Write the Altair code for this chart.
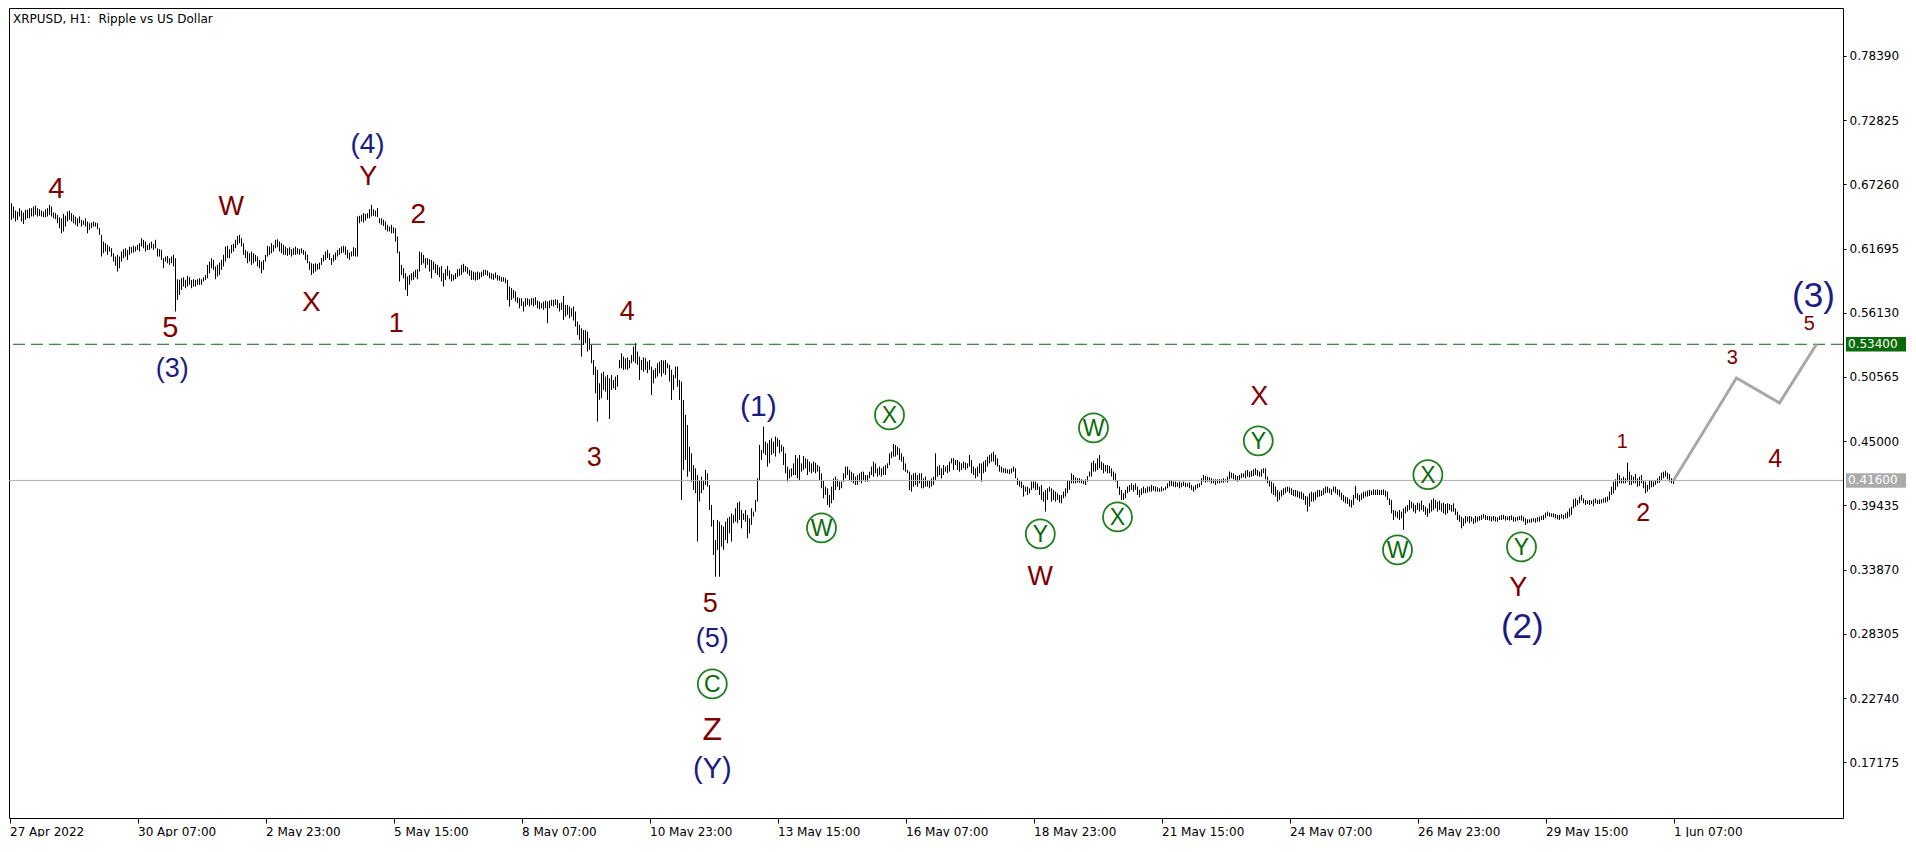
import json
import pandas as pd
import altair as alt

TITLE = "XRPUSD, H1:\u00a0 Ripple vs US Dollar"

# Hourly bars, bar 0 = 27 Apr 2022 15:00.  Prices in pips (1e-4 USD).
high_pips = [
    6557, 6562, 6534, 6499, 6490, 6519, 6499, 6482, 6505, 6505,
    6519, 6519, 6534, 6542, 6519, 6510, 6499, 6490, 6510, 6519,
    6548, 6534, 6482, 6476, 6461, 6441, 6432, 6470, 6453, 6490,
    6499, 6476, 6461, 6447, 6432, 6447, 6418, 6412, 6432, 6404,
    6389, 6395, 6404, 6395, 6389, 6346, 6288, 6230, 6216, 6201,
    6187, 6172, 6129, 6100, 6115, 6100, 6144, 6164, 6172, 6158,
    6187, 6181, 6193, 6187, 6201, 6216, 6259, 6245, 6230, 6201,
    6216, 6230, 6210, 6245, 6172, 6164, 6158, 6086, 6100, 6106,
    6086, 6100, 6115, 6086, 5904, 5898, 5912, 5921, 5898, 5933,
    5921, 5898, 5904, 5898, 5904, 5912, 5904, 5921, 5941, 6028,
    6057, 6086, 6071, 6014, 6028, 6048, 6071, 6115, 6187, 6193,
    6164, 6201, 6210, 6245, 6279, 6288, 6259, 6216, 6158, 6144,
    6129, 6144, 6129, 6115, 6100, 6071, 6057, 6071, 6115, 6193,
    6187, 6216, 6201, 6245, 6250, 6230, 6216, 6201, 6187, 6172,
    6181, 6164, 6172, 6187,
    6172, 6164, 6172, 6158, 6144, 6115,
    6057, 6042, 6037, 6042, 6037, 6048, 6086, 6115, 6144, 6158,
    6129, 6086, 6115, 6135, 6158, 6172, 6187, 6193, 6187, 6158,
    6135, 6144, 6181, 6172, 6447, 6453, 6461, 6476, 6470, 6476,
    6510, 6548, 6510, 6499, 6519, 6432, 6432, 6418, 6404, 6375,
    6360, 6375, 6354, 6346, 6274, 6144, 6028, 5999, 5956, 5927,
    5941, 5956, 5970, 5985, 5990, 6144, 6135, 6115, 6086, 6086,
    6077, 6071, 6057, 6037, 6028, 6008, 6019, 5956, 5990, 6019,
    5979, 5950, 5941, 5956, 5990, 5996, 6028, 6037, 6019, 6008,
    5985, 5979, 5970, 5962, 5970, 5962, 5970, 5985, 5985, 5979,
    5962, 5956, 5950, 5962, 5941, 5933, 5921, 5921, 5912, 5898,
    5840, 5826, 5811, 5797, 5748, 5739, 5739, 5710, 5739, 5739,
    5730, 5739, 5739, 5748, 5719, 5710, 5696, 5710, 5719, 5710,
    5719, 5725, 5725, 5730, 5725, 5696, 5702, 5759, 5681, 5681,
    5667, 5652, 5667, 5624,
    5537, 5508, 5479, 5464, 5464, 5450,
    5392, 5334, 5204, 5147, 5118, 5002, 5089, 5103, 5060, 5074,
    5045, 5074, 5031, 5060, 5074, 5204, 5262, 5233, 5219, 5227,
    5204, 5248, 5320, 5349, 5277, 5233, 5204, 5227, 5219, 5190,
    5204, 5147, 5118, 5132, 5175, 5190, 5204, 5199, 5204, 5175,
    5161, 5118, 5074, 5147, 5147, 5031, 5017, 4858, 4728, 4641,
    4453, 4395, 4294, 4265, 4208, 4164, 4193, 4164, 4251, 4222,
    4121, 3948, 3818, 3644, 3818, 3803, 3774, 3760, 3803, 3832,
    3846, 3875, 3861, 3919, 3968, 3977, 3904, 3875, 3904, 3861,
    3832, 3919, 3890, 3991, 4179, 4468, 4424, 4627, 4496, 4482,
    4511, 4525, 4496, 4540, 4525, 4511, 4468, 4453, 4395,
    4280, 4256, 4265, 4308, 4381, 4352, 4381, 4308, 4372, 4352, 4343,
    4323, 4308, 4323, 4314, 4294, 4280, 4222, 4164, 4106, 4092,
    4034, 4106, 4178, 4193, 4170, 4150, 4150, 4222, 4280, 4280,
    4251, 4236, 4222, 4193, 4207, 4222, 4236, 4236, 4207, 4207,
    4236, 4280, 4323, 4308, 4265, 4280, 4265, 4280, 4294, 4308,
    4395, 4410, 4476, 4467, 4453, 4438, 4395, 4366, 4308, 4251,
    4236, 4207, 4222, 4228, 4207, 4222, 4222, 4178, 4193, 4164,
    4164, 4178, 4193, 4395, 4280, 4294, 4265, 4294, 4280, 4294,
    4323, 4352, 4352, 4337, 4337, 4323, 4308, 4323, 4314, 4308,
    4381, 4337, 4280, 4265, 4280, 4308, 4308, 4323, 4337, 4366,
    4381, 4395, 4410, 4381, 4352, 4294, 4280, 4265, 4265, 4256,
    4256, 4265, 4280, 4265, 4178, 4164, 4150, 4121, 4106, 4106,
    4092, 4150, 4150, 4150, 4135, 4106, 4121, 4063, 4077, 4092,
    4106, 4092, 4077, 4063, 4048, 4034, 4034, 4063, 4092,
    4164, 4164, 4222, 4208, 4187, 4179, 4179, 4170, 4164, 4170, 4199,
    4237, 4315, 4332, 4309, 4352, 4381, 4323, 4309, 4294, 4294,
    4286, 4265, 4237, 4222, 4164, 4107, 4078, 4049, 4078, 4107,
    4121, 4135, 4121, 4135, 4107, 4078, 4092, 4107, 4092, 4107,
    4107, 4121, 4112, 4107, 4101, 4092, 4107, 4092, 4107, 4135,
    4164, 4159, 4150, 4150, 4141, 4150, 4141, 4150, 4141, 4135,
    4141, 4121, 4107, 4121, 4130, 4135, 4179, 4208, 4199, 4193,
    4187, 4179, 4170, 4170, 4170, 4170, 4170, 4179, 4170, 4193,
    4237, 4228, 4222, 4208, 4199, 4208, 4222, 4222, 4245, 4251,
    4237, 4245, 4257, 4265, 4251, 4237, 4257, 4265, 4265, 4193,
    4164, 4150, 4135, 4107, 4078, 4063, 4078, 4092, 4101, 4107,
    4101, 4092, 4078, 4078, 4072, 4063, 4063, 4049, 4026, 4020,
    4049, 4063, 4055, 4063, 4078, 4078, 4072, 4092, 4107, 4107,
    4092, 4083, 4107, 4107, 4083, 4078, 4055, 4034, 4020, 4014,
    3997, 3991, 4034, 4112, 4049, 4034, 4049, 4063, 4063, 4072,
    4078, 4072, 4083, 4078,
    4083, 4077, 4077, 4083, 4072, 4063,
    4005, 3991, 3904, 3898, 3890, 3904, 3890, 3918, 3933, 3947,
    3991, 3976, 3962, 3947, 3968, 3962, 3985, 3947, 3933, 3918,
    3962, 3991, 4005, 3991, 3976, 3985, 3962, 3968, 3956, 3962,
    3956, 3947, 3962, 3918, 3890, 3861, 3846, 3832, 3852, 3846,
    3852, 3846, 3832, 3852, 3846, 3852, 3861, 3869, 3861, 3852,
    3852, 3846, 3852, 3846, 3840, 3852, 3861, 3861, 3852, 3846,
    3852, 3858, 3846, 3840, 3846, 3852, 3858, 3846, 3832, 3823,
    3823, 3832, 3832, 3832, 3840, 3846, 3852, 3861, 3881, 3890,
    3881, 3875, 3875, 3869, 3861, 3861, 3869, 3861, 3875, 3890,
    3918, 3933, 3996, 4005, 3991, 4020, 4034, 4005, 3991, 3985,
    3991, 3985, 3996, 4005, 3991, 3996, 3996, 4005, 4014, 4020,
    4063, 4106, 4150, 4170, 4222, 4207, 4178, 4193, 4178, 4314,
    4236, 4207, 4193, 4216, 4178, 4193, 4207, 4164, 4150, 4121,
    4164, 4158, 4150, 4164, 4178, 4199, 4228, 4236, 4245, 4228,
    4216, 4178, 4164,
]

low_pips = [
    6441, 6418, 6432, 6404, 6418, 6447, 6404, 6383, 6418, 6432,
    6432, 6447, 6447, 6461, 6447, 6453, 6447, 6441, 6441, 6447,
    6461, 6447, 6432, 6424, 6389, 6346, 6302, 6317, 6360, 6404,
    6418, 6404, 6389, 6375, 6360, 6389, 6360, 6375, 6360, 6302,
    6331, 6346, 6360, 6360, 6337, 6288, 6100, 6129, 6144, 6115,
    6144, 6100, 6057, 6019, 5970, 5999, 6057, 6086, 6100, 6071,
    6115, 6129, 6135, 6144, 6158, 6144, 6187, 6172, 6144, 6158,
    6158, 6172, 6158, 6172, 6100, 6100, 6071, 5999, 6057, 6042,
    6028, 6042, 6014, 5624, 5725, 5768, 5811, 5840, 5826, 5840,
    5855, 5826, 5840, 5840, 5855, 5855, 5855, 5884, 5898, 5912,
    5956, 5999, 5985, 5904, 5927, 5941, 5985, 6014, 6057, 6086,
    6086, 6129, 6144, 6172, 6201, 6216, 6187, 6115, 6086, 6042,
    6057, 6028, 6042, 6057, 6014, 5999, 5956, 5985, 6057, 6100,
    6115, 6129, 6144, 6172, 6181, 6144, 6129, 6115, 6115, 6106,
    6115, 6100, 6115, 6115,
    6123, 6115, 6129, 6115, 6071, 6042,
    5985, 5941, 5956, 5970, 5985, 5990, 6028, 6057, 6071, 6086,
    6071, 6028, 6057, 6071, 6100, 6115, 6129, 6135, 6115, 6086,
    6071, 6100, 6106, 6100, 6100, 6389, 6404, 6395, 6412, 6432,
    6432, 6447, 6453, 6447, 6441, 6389, 6375, 6366, 6331, 6317,
    6317, 6302, 6302, 6230, 6129, 5884, 5941, 5912, 5811, 5759,
    5855, 5892, 5898, 5921, 5904, 5970, 6028, 6042, 5999, 6028,
    5970, 5912, 5985, 5956, 5941, 5921, 5884, 5840, 5898, 5933,
    5904, 5884, 5892, 5904, 5921, 5933, 5941, 5962, 5970, 5950,
    5933, 5898, 5898, 5892, 5898, 5904, 5921, 5933, 5941, 5933,
    5912, 5904, 5898, 5912, 5892, 5892, 5881, 5884, 5869, 5725,
    5667, 5725, 5739, 5710, 5696, 5652, 5673, 5624, 5667, 5681,
    5667, 5681, 5667, 5681, 5652, 5644, 5652, 5638, 5652, 5522,
    5652, 5673, 5667, 5681, 5652, 5624, 5638, 5551, 5580, 5595,
    5566, 5580, 5546, 5494,
    5421, 5378, 5233, 5334, 5349, 5277,
    5291, 5175, 5074, 4915, 4670, 4858, 4872, 4944, 4930, 4858,
    4693, 4944, 4959, 4944, 4973, 5132, 5132, 5118, 5123, 5118,
    5132, 5175, 5190, 5175, 5161, 5031, 5118, 5103, 5118, 5089,
    5118, 4901, 5002, 5045, 5060, 5089, 5060, 5089, 5074, 5132,
    5017, 4858, 4944, 5045, 4973, 4858, 3991, 4251, 4338, 4193,
    4236, 4150, 4078, 4049, 3630, 3977, 4049, 4078, 4121, 4107,
    3904, 3760, 3514, 3326, 3558, 3326, 3586, 3558, 3644, 3615,
    3702, 3630, 3789, 3803, 3789, 3818, 3745, 3818, 3803, 3659,
    3702, 3774, 3846, 3890, 3977, 4164, 4338, 4395, 4381, 4280,
    4309, 4381, 4395, 4367, 4453, 4395, 4410, 4294, 4222,
    4150, 4178, 4193, 4207, 4207, 4178, 4164, 4236, 4251, 4265, 4207,
    4236, 4222, 4236, 4222, 4236, 4164, 4092, 4005, 4034, 3947,
    3927, 3962, 3991, 4077, 4106, 4077, 4092, 4150, 4178, 4207,
    4164, 4150, 4135, 4121, 4121, 4150, 4135, 4164, 4150, 4150,
    4178, 4207, 4193, 4222, 4193, 4207, 4193, 4207, 4207, 4265,
    4294, 4352, 4366, 4366, 4381, 4337, 4323, 4251, 4236, 4222,
    4077, 4063, 4106, 4121, 4106, 4135, 4092, 4092, 4106, 4106,
    4092, 4106, 4121, 4164, 4193, 4207, 4178, 4207, 4236, 4222,
    4236, 4308, 4251, 4294, 4251, 4236, 4251, 4265, 4251, 4265,
    4280, 4222, 4207, 4178, 4193, 4222, 4150, 4222, 4236, 4280,
    4308, 4323, 4323, 4294, 4280, 4236, 4228, 4228, 4222, 4222,
    4216, 4222, 4236, 4178, 4121, 4106, 4092, 4020, 4063, 4034,
    4048, 4077, 4092, 4077, 4077, 4034, 3991, 3976, 3890, 3991,
    4063, 3976, 3991, 3976, 3991, 3968, 3962, 4005, 4020,
    4049, 4078, 4135, 4135, 4135, 4141, 4141, 4135, 4130, 4121, 4150,
    4193, 4193, 4237, 4237, 4251, 4265, 4251, 4222, 4237, 4222,
    4222, 4193, 4164, 4150, 4092, 4034, 3991, 3991, 4005, 4049,
    4063, 4078, 4063, 4078, 4034, 4014, 4034, 4049, 4049, 4055,
    4063, 4063, 4072, 4063, 4063, 4063, 4063, 4072, 4078, 4092,
    4107, 4112, 4107, 4101, 4107, 4092, 4101, 4112, 4101, 4107,
    4092, 4078, 4063, 4078, 4092, 4101, 4121, 4150, 4141, 4150,
    4150, 4135, 4135, 4121, 4135, 4135, 4141, 4141, 4150, 4141,
    4170, 4179, 4170, 4159, 4150, 4164, 4179, 4187, 4179, 4193,
    4187, 4193, 4199, 4208, 4199, 4193, 4193, 4222, 4170, 4135,
    4107, 4049, 4034, 4020, 3976, 3991, 4020, 4034, 4049, 4063,
    4049, 4034, 4026, 4020, 4014, 4005, 3997, 3991, 3948, 3890,
    3933, 3976, 3976, 3991, 4014, 4020, 4026, 4034, 4049, 4055,
    4049, 4034, 4063, 4049, 4034, 4020, 3991, 3976, 3962, 3956,
    3933, 3925, 3948, 4005, 3991, 3976, 3991, 4005, 4020, 4020,
    4026, 4034, 4034, 4034,
    4034, 4034, 4034, 4034, 4020, 3991,
    3947, 3875, 3817, 3846, 3832, 3817, 3832, 3731, 3875, 3890,
    3904, 3918, 3890, 3875, 3904, 3890, 3904, 3890, 3861, 3846,
    3875, 3890, 3904, 3918, 3890, 3904, 3890, 3875, 3861, 3875,
    3904, 3890, 3890, 3861, 3817, 3803, 3745, 3765, 3788, 3803,
    3788, 3803, 3783, 3794, 3803, 3812, 3817, 3832, 3817, 3817,
    3812, 3803, 3812, 3803, 3803, 3817, 3817, 3823, 3812, 3817,
    3812, 3817, 3803, 3803, 3812, 3817, 3812, 3803, 3774, 3788,
    3794, 3794, 3803, 3794, 3803, 3803, 3817, 3817, 3832, 3852,
    3846, 3846, 3840, 3832, 3823, 3817, 3832, 3823, 3832, 3832,
    3846, 3861, 3918, 3933, 3947, 3962, 3985, 3962, 3947, 3956,
    3947, 3956, 3939, 3962, 3956, 3956, 3962, 3968, 3968, 3976,
    3991, 4034, 4048, 4077, 4106, 4135, 4135, 4135, 4135, 4150,
    4121, 4121, 4135, 4135, 4106, 4112, 4135, 4092, 4048, 4063,
    4083, 4100, 4106, 4121, 4135, 4141, 4164, 4178, 4193, 4170,
    4150, 4135, 4129,
]

tick_hours = [0, 64, 128, 192, 256, 320, 384, 448, 512, 576, 640, 704, 768, 832]
tick_labels = ["27 Apr 2022", "30 Apr 07:00", "2 May 23:00", "5 May 15:00",
               "8 May 07:00", "10 May 23:00", "13 May 15:00", "16 May 07:00",
               "18 May 23:00", "21 May 15:00", "24 May 07:00", "26 May 23:00",
               "29 May 15:00", "1 Jun 07:00"]
price_ticks = [0.78390, 0.72825, 0.67260, 0.61695, 0.56130, 0.50565,
               0.45000, 0.39435, 0.33870, 0.28305, 0.22740, 0.17175]

target_level = 0.534
current_level = 0.416

proj_bars = [832, 863.5, 885, 903.5]
proj_prices = [0.416, 0.5048, 0.4832, 0.534]

MAROON, NAVY = "#800000", "#1C1C80"
wave_text = ["4", "W", "X", "Y", "2", "1", "5", "4", "3", "5", "Z",
             "W", "X", "Y", "1", "2", "3", "4", "5",
             "(4)", "(3)", "(1)", "(5)", "(Y)", "(2)", "(3)"]
wave_bar = [23.4, 110.9, 150.9, 179.4, 204.4, 193.4, 80.4, 308.9, 292.4, 350.4, 351.4,
            515.4, 624.9, 754.4, 806.4, 816.9, 861.4, 882.9, 899.9,
            179, 81.4, 374.4, 351.4, 351.4, 756.4, 902]
wave_price = [0.6686, 0.6530, 0.5698, 0.6790, 0.6461, 0.5516, 0.5482, 0.5620, 0.4355,
              0.3090, 0.2000, 0.3324, 0.4884, 0.3229, 0.4494, 0.3879, 0.5222, 0.4347,
              0.5516, 0.7067, 0.5126, 0.4797, 0.2787, 0.1660, 0.2891, 0.5759]
wave_color = [MAROON] * 19 + [NAVY] * 7
wave_size = [29, 27, 28, 27, 28, 27, 29, 27, 27, 27, 32,
             27, 27, 27, 20, 25, 20, 25, 20,
             28, 27, 30, 27, 29, 35, 35]

circ_letter = ["C", "W", "X", "Y", "W", "X", "Y", "X", "W", "Y"]
circ_bar = [351.4, 406, 440, 515.4, 542, 554, 624.4, 709.2, 694, 756]
circ_price = [0.2397, 0.3749, 0.4728, 0.3697, 0.4615, 0.3844, 0.4503, 0.4210, 0.3558, 0.3584]

# ---------------------------------------------------------------- layout
W, H = 1834, 810
PX_PER_BAR = 2
x_scale = alt.Scale(domain=[-0.25, -0.25 + W / PX_PER_BAR], nice=False, zero=False)
y_top = 0.8254
y_scale = alt.Scale(domain=[y_top - H / 1154.0, y_top], nice=False, zero=False)

label_expr = "%s[indexof(%s, datum.value)]" % (json.dumps(tick_labels), json.dumps(tick_hours))
x_axis = alt.Axis(values=tick_hours, labelExpr=label_expr, orient="bottom", grid=False,
                  domain=False, ticks=True, tickSize=5, tickColor="black",
                  labelColor="black", labelFont="DejaVu Sans", labelFontSize=12,
                  labelAlign="left", labelBaseline="top", labelPadding=3,
                  labelOverlap=False, labelFlush=False, title=None)
y_axis = alt.Axis(orient="right", values=price_ticks, format=".5f", grid=False,
                  domain=False, tickSize=3, tickColor="black", labelPadding=3,
                  labelColor="black", labelFont="DejaVu Sans", labelFontSize=12,
                  labelOverlap=False, labelFlush=False, title=None)


def X(field):
    return alt.X(field + ":Q", scale=x_scale, axis=x_axis)


def Y(field):
    return alt.Y(field + ":Q", scale=y_scale, axis=y_axis)


n = min(len(high_pips), len(low_pips))
bars_df = pd.DataFrame({
    "bar": list(range(n)),
    "high": [v / 10000 for v in high_pips[:n]],
    "low": [v / 10000 for v in low_pips[:n]],
})

bars = alt.Chart(bars_df).mark_rule(color="black", strokeWidth=1).encode(
    x=X("bar"), y=Y("low"), y2="high:Q")

target = alt.Chart(pd.DataFrame({"price": [target_level]})).mark_rule(
    color="#0A6A0A", strokeDash=[12, 6], strokeWidth=1).encode(y=Y("price"))
current = alt.Chart(pd.DataFrame({"price": [current_level]})).mark_rule(
    color="#AFAFAF", strokeWidth=1).encode(y=Y("price"))

proj = alt.Chart(pd.DataFrame({"bar": proj_bars, "price": proj_prices})).mark_line(
    color="#A8A8A8", strokeWidth=3).encode(x=X("bar"), y=Y("price"))

box_df = pd.DataFrame({
    "price": [target_level, current_level],
    "label": ["%.5f" % target_level, "%.5f" % current_level],
    "fill": ["#0A6A0A", "#ABABAB"],
})
boxes = alt.Chart(box_df).mark_point(
    shape="M -1 -0.24 L 1 -0.24 L 1 0.24 L -1 0.24 Z", filled=True, size=3600,
    opacity=1, strokeWidth=0).encode(
    x=alt.value(W + 33), y=Y("price"), color=alt.Color("fill:N", scale=None))
box_text = alt.Chart(box_df).mark_text(
    align="left", baseline="middle", color="white", font="DejaVu Sans", fontSize=12).encode(
    x=alt.value(W + 5), y=Y("price"), text="label:N")

wave_df = pd.DataFrame({"text": wave_text, "bar": wave_bar, "price": wave_price,
                        "color": wave_color, "size": wave_size})
waves = alt.Chart(wave_df).mark_text(font="Liberation Sans", align="center", baseline="middle").encode(
    x=X("bar"), y=Y("price"), text="text:N",
    color=alt.Color("color:N", scale=None), size=alt.Size("size:Q", scale=None))

circ_df = pd.DataFrame({"letter": circ_letter, "bar": circ_bar, "price": circ_price})
circles = alt.Chart(circ_df).mark_point(
    shape="circle", size=840, filled=False, strokeWidth=1.8, color="#1F7F1F", opacity=1).encode(
    x=X("bar"), y=Y("price"))
circ_text = alt.Chart(circ_df).mark_text(
    font="Liberation Sans", fontSize=23, color="#0A6A0A", align="center", baseline="middle", dy=1).encode(
    x=X("bar"), y=Y("price"), text="letter:N")

title = alt.Chart(pd.DataFrame({"t": [TITLE]})).mark_text(
    align="left", baseline="middle", font="DejaVu Sans", fontSize=12, color="black").encode(
    x=alt.value(4), y=alt.value(11), text="t:N")

chart = alt.layer(bars, target, current, proj, boxes, box_text, waves, circles, circ_text, title).properties(
    width=W, height=H, padding={"left": 0, "top": 0, "right": 0, "bottom": 0},
    background="white",
).configure_view(stroke="black", strokeWidth=1)

chart.save("out.html", embed_options={"renderer": "svg", "actions": False})
